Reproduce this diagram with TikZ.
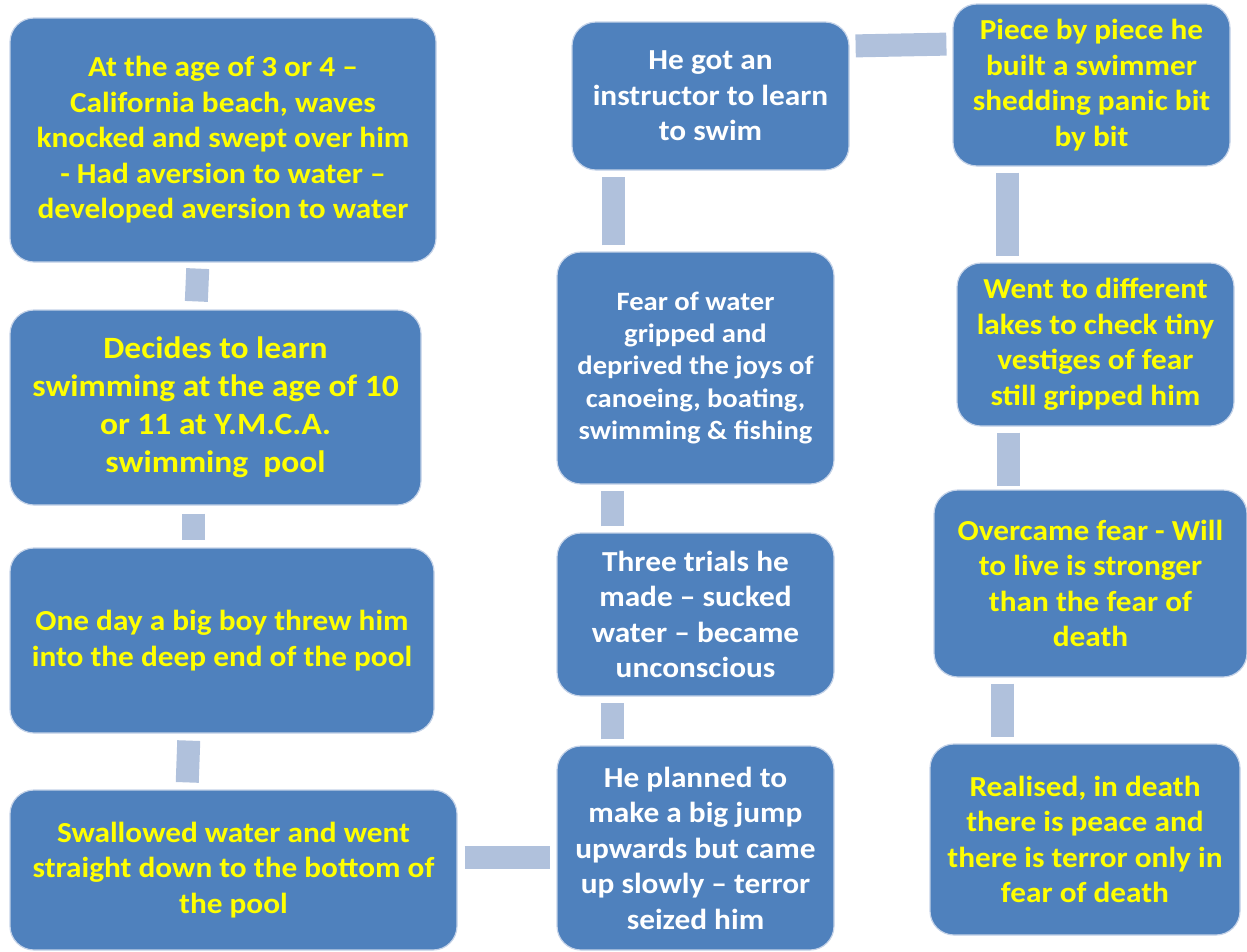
\documentclass[tikz,border=0pt]{standalone}
\usepackage{fontspec}
\setmainfont{Carlito}[FakeStretch=1.08]
\definecolor{boxfill}{HTML}{4F81BD}
\definecolor{boxline}{HTML}{C5D3E8}
\definecolor{barcol}{HTML}{B0C1DC}
\definecolor{txtyellow}{HTML}{FFFF00}
\begin{document}
\begin{tikzpicture}[x=1pt,y=-1pt,
  box/.style={draw=boxline, line width=1.2pt, fill=boxfill, rounded corners=24pt,
    align=center, inner sep=0pt, font=\bfseries\fontsize{29}{35.5}\selectfont},
  yel/.style={text=txtyellow},
  wht/.style={text=white},
  bar/.style={draw=barcol, line width=23pt, line cap=butt}]
\useasboundingbox (0,0) rectangle (1247,951);
\clip (0,0) rectangle (1247,951);
% left column
\node[box,yel,minimum width=426pt,minimum height=244pt] (A) at (223,140)
  {At the age of 3 or 4 --\\California beach, waves\\knocked and swept over him\\- Had aversion to water --\\developed aversion to water};
\node[box,yel,minimum width=411pt,minimum height=195pt,font=\bfseries\fontsize{31}{38}\selectfont] (B) at (215.5,407.5)
  {Decides to learn\\swimming at the age of 10\\or 11 at Y.M.C.A.\\swimming\ \ pool};
\node[box,yel,minimum width=424pt,minimum height=185pt] (C) at (222,640.5)
  {One day a big boy threw him\\into the deep end of the pool};
\node[box,yel,minimum width=447pt,minimum height=160pt] (D) at (233.5,870)
  {Swallowed water and went\\straight down to the bottom of\\the pool};
% middle column
\node[box,wht,minimum width=277pt,minimum height=204pt] (E) at (695.5,848)
  {He planned to\\make a big jump\\upwards but came\\up slowly -- terror\\seized him};
\node[box,wht,minimum width=277pt,minimum height=163pt] (F) at (695.5,614.5)
  {Three trials he\\made -- sucked\\water -- became\\unconscious};
\node[box,wht,minimum width=277pt,minimum height=232pt,font=\bfseries\fontsize{26.5}{32.3}\selectfont] (G) at (695.5,368)
  {Fear of water\\gripped and\\deprived the joys of\\canoeing, boating,\\swimming \& fishing};
\node[box,wht,minimum width=277pt,minimum height=148pt] (H) at (710.5,96)
  {He got an\\instructor to learn\\to swim};
% right column
\node[box,yel,minimum width=277pt,minimum height=162pt] (I) at (1091.5,85)
  {Piece by piece he\\built a swimmer\\shedding panic bit\\by bit};
\node[box,yel,minimum width=277pt,minimum height=163pt] (J) at (1095.5,344.5)
  {Went to different\\lakes to check tiny\\vestiges of fear\\still gripped him};
\node[box,yel,minimum width=313pt,minimum height=187pt] (K) at (1090.5,583.5)
  {Overcame fear - Will\\to live is stronger\\than the fear of\\death};
\node[box,yel,minimum width=310pt,minimum height=191pt] (L) at (1085,839.5)
  {Realised, in death\\there is peace and\\there is terror only in\\fear of death};
% connectors
\draw[bar, shorten <=6pt, shorten >=8pt] ([xshift=-25pt]A.south) -- ([xshift=-19.5pt]B.north);
\draw[bar, shorten <=8pt, shorten >=7pt] ([xshift=-22.5pt]B.south) -- ([xshift=-29pt]C.north);
\draw[bar, shorten <=7pt, shorten >=7pt] ([xshift=-33pt]C.south) -- ([xshift=-46.5pt]D.north);
\draw[bar, shorten <=7pt, shorten >=6pt] ([yshift=13pt]D.east) -- ([yshift=-9pt]E.west);
\draw[bar, shorten <=6pt, shorten >=6pt] ([xshift=-83.5pt]E.north) -- ([xshift=-83.5pt]F.south);
\draw[bar, shorten <=6pt, shorten >=6pt] ([xshift=-83.5pt]F.north) -- ([xshift=-83.5pt]G.south);
\draw[bar, shorten <=6pt, shorten >=6pt] ([xshift=-82.5pt]G.north) -- ([xshift=-97.5pt]H.south);
\draw[bar, shorten <=6pt, shorten >=6pt] ([yshift=50pt]H.east) -- ([yshift=41pt]I.west);
\draw[bar, shorten <=6pt, shorten >=6pt] ([xshift=-84.5pt]I.south) -- ([xshift=-88.5pt]J.north);
\draw[bar, shorten <=6pt, shorten >=3pt] ([xshift=-87.5pt]J.south) -- ([xshift=-82.5pt]K.north);
\draw[bar, shorten <=6pt, shorten >=6pt] ([xshift=-88.5pt]K.south) -- ([xshift=-83pt]L.north);
\end{tikzpicture}
\end{document}
